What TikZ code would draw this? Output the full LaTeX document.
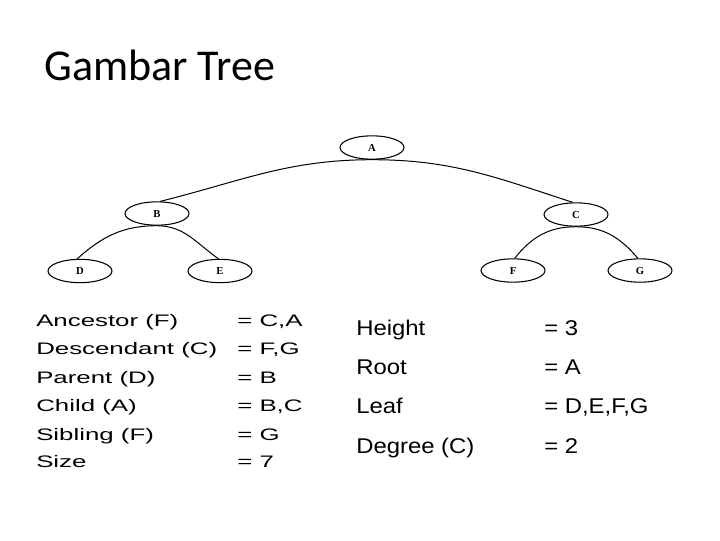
\documentclass[tikz,border=0pt]{standalone}
\usepackage{fontspec}
\setmainfont{Liberation Sans}
\newfontfamily\titlefont{Carlito}
\newfontfamily\treefont{Liberation Serif}
\newfontfamily\leftfont[FakeStretch=1.55]{Liberation Sans}
\newfontfamily\rightfont[FakeStretch=1.12]{Liberation Sans}
\usetikzlibrary{shapes.geometric}

\tikzset{
    treenode/.style={draw, ellipse, line width=0.8pt, inner sep=0pt,
        minimum width=48pt, minimum height=17.5pt,
        text height=5.3pt, text depth=0pt,
        font=\treefont\bfseries\fontsize{8}{9}\selectfont},
    treeedge/.style={line width=0.75pt},
    lefttext/.style={anchor=base west, inner sep=0pt,
        font=\leftfont\fontsize{12.5}{14}\selectfont},
    righttext/.style={anchor=base west, inner sep=0pt,
        font=\rightfont\fontsize{16}{18}\selectfont}
}

\begin{document}
\begin{tikzpicture}[x=0.75pt, y=-0.75pt]
    \useasboundingbox (0,0) rectangle (720,540);

    \node[anchor=base west, inner sep=0pt,
        font=\titlefont\fontsize{33}{37}\selectfont] (title) at (44,80) {Gambar Tree};

    \node[treenode] (A) at (372,147.5) {A};
    \node[treenode] (B) at (157,213.5) {B};
    \node[treenode] (C) at (576,214.5) {C};
    \node[treenode] (D) at (80,271) {D};
    \node[treenode] (E) at (220,271) {E};
    \node[treenode] (F) at (513,270.5) {F};
    \node[treenode] (G) at (640,270.5) {G};

    \draw[treeedge] (A.south) to[out=180, in=14] (B.75);
    \draw[treeedge] (A.south) to[out=0, in=162] (C.105);
    \draw[treeedge] (B.south) to[out=180, in=42] (D.103);
    \draw[treeedge] (B.south) to[out=0, in=145] (E.97);
    \draw[treeedge] (C.south) to[out=180, in=52] (F.82);
    \draw[treeedge] (C.south) to[out=0, in=130] (G.100);

    \foreach \name/\val/\y [count=\i] in {
        Ancestor (F)/{= C,A}/326.5,
        Descendant (C)/{= F,G}/354.5,
        Parent (D)/{= B}/383,
        Child (A)/{= B,C}/411.5,
        Sibling (F)/{= G}/440,
        Size/{= 7}/467.5
    }{
        \node[lefttext] (lname\i) at (36,\y) {\name};
        \node[lefttext] (lval\i) at (237,\y) {\val};
    }

    \foreach \name/\val/\y [count=\i] in {
        Height/{= 3}/335,
        Root/{= A}/374,
        Leaf/{= D,E,F,G}/413.5,
        Degree (C)/{= 2}/453
    }{
        \node[righttext] (rname\i) at (356,\y) {\name};
        \node[righttext] (rval\i) at (544,\y) {\val};
    }
\end{tikzpicture}
\end{document}
